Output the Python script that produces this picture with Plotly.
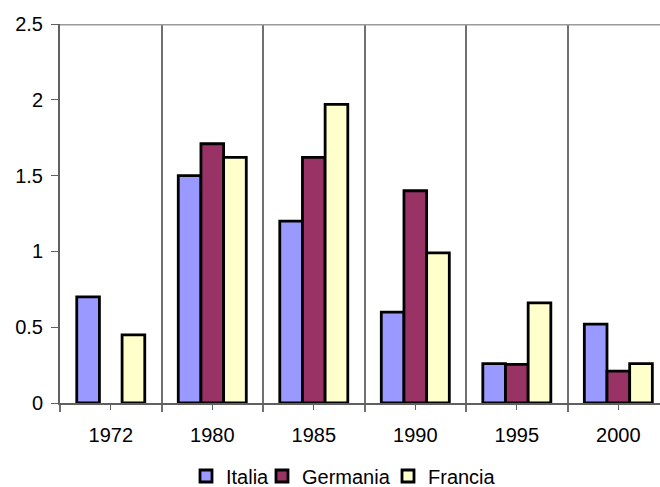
import plotly.graph_objects as go

# Years on the category axis and one value list per country
years = ["1972", "1980", "1985", "1990", "1995", "2000"]
italia = [0.70, 1.50, 1.20, 0.60, 0.26, 0.52]
germania = [None, 1.71, 1.62, 1.40, 0.255, 0.21]
francia = [0.45, 1.62, 1.97, 0.99, 0.66, 0.26]
y_ticks = [0, 0.5, 1, 1.5, 2, 2.5]
y_tick_text = ["0", "0.5", "1", "1.5", "2", "2.5"]

positions = list(range(len(years)))
outline = dict(color="#000000", width=2.8)

W, H = 660, 487
left, top, bottom = 59.5, 24.3, 83.5
cat_px = 101.6
plot_w = W - left
x_max = -0.5 + plot_w / cat_px

series = [
    ("Italia", italia, "#9999FF", "legend", 228),
    ("Germania", germania, "#993366", "legend2", 304),
    ("Francia", francia, "#FFFFCC", "legend3", 430),
]

fig = go.Figure()
legend_layout = {}
for name, vals, color, leg, text_x in series:
    fig.add_trace(go.Bar(name=name, x=positions, y=vals, legend=leg,
                         marker=dict(color=color, line=outline)))
    legend_layout[leg] = dict(
        orientation="h", xref="container", yref="container",
        x=(text_x - 42) / W, xanchor="left", y=1 - 476 / H, yanchor="middle",
        font=dict(size=20), itemwidth=30, bgcolor="rgba(0,0,0,0)", borderwidth=0,
    )

fig.update_layout(
    width=W, height=H,
    margin=dict(l=left, r=0, t=top, b=bottom, pad=0),
    paper_bgcolor="white", plot_bgcolor="white",
    font=dict(family="Liberation Sans, Arial, sans-serif", size=20, color="#000000"),
    barmode="group", bargap=0.33, bargroupgap=0,
    showlegend=True,
    **legend_layout,
)

fig.update_xaxes(
    range=[-0.5, x_max], tickmode="array", tickvals=positions, ticktext=years,
    ticks="outside", ticklen=5, tickwidth=1, tickcolor="#606060",
    ticklabelstandoff=8,
    showgrid=False, zeroline=False,
    showline=True, linecolor="#606060", linewidth=2,
    minor=dict(tick0=0.5, dtick=1, ticks="outside", ticklen=7, tickwidth=1.5,
               tickcolor="#707070", showgrid=True, gridcolor="#707070", gridwidth=1.5),
    fixedrange=True,
)
fig.update_yaxes(
    range=[0, 2.5], tickmode="array", tickvals=y_ticks, ticktext=y_tick_text,
    ticks="outside", ticklen=7, tickwidth=1, tickcolor="#606060",
    ticklabelstandoff=4,
    showgrid=False, zeroline=False,
    showline=True, linecolor="#606060", linewidth=2,
    fixedrange=True,
)

# Upper border of the plotting area
fig.add_shape(type="line", xref="paper", yref="y", x0=0, x1=1, y0=2.5, y1=2.5,
              line=dict(color="#9A9A9A", width=3), layer="above")

fig.write_html("out.html")
